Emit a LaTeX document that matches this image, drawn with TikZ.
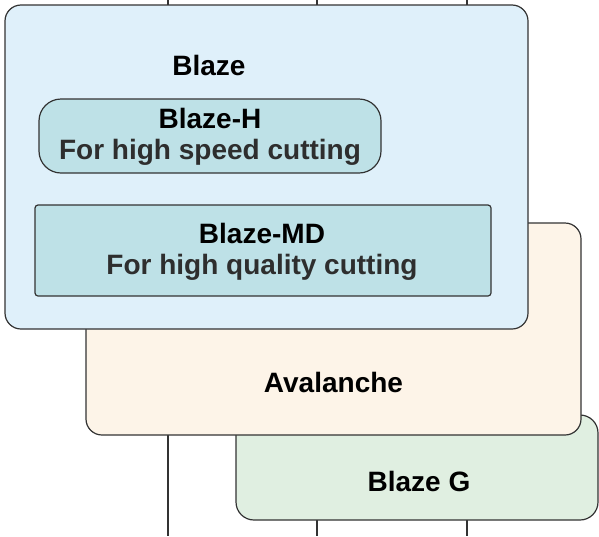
\documentclass[tikz,border=0pt]{standalone}
\usepackage{fontspec}
\setmainfont{Liberation Sans}
\definecolor{edge}{HTML}{333333}
\definecolor{blazefill}{HTML}{DFF0FA}
\definecolor{innerfill}{HTML}{BEE1E7}
\definecolor{avafill}{HTML}{FDF4E8}
\definecolor{gfill}{HTML}{E0EFE1}
\definecolor{subtext}{HTML}{2E2E2E}
\begin{document}
\begin{tikzpicture}[x=1pt,y=-1pt,
  box/.style={draw=edge, line width=1.2pt, inner sep=0pt, outer sep=0pt, anchor=north west},
  title/.style={anchor=base, inner sep=0pt, font=\fontsize{28}{31}\selectfont\bfseries, text=black},
  sub/.style={anchor=base, inner sep=0pt, font=\fontsize{28}{31}\selectfont\bfseries, text=subtext},
  rail/.style={draw=edge, line width=1.1pt}]
\useasboundingbox (0,0) rectangle (599,536);
% rails behind the boxes
\foreach \i/\x in {1/168,2/317,3/467}{
  \coordinate (top\i) at (\x,0);
  \coordinate (bot\i) at (\x,536);
  \draw[rail] (top\i) -- (bot\i);
}
% Blaze G
\node[box, fill=gfill, rounded corners=18pt, minimum width=362pt, minimum height=105pt] (bg) at (236,415) {};
% Avalanche
\node[box, fill=avafill, rounded corners=16pt, minimum width=495pt, minimum height=212pt] (ava) at (86,223) {};
% Blaze
\node[box, fill=blazefill, rounded corners=16pt, minimum width=523pt, minimum height=324pt] (blaze) at (5,5) {};
% Blaze-H
\node[box, fill=innerfill, rounded corners=22pt, minimum width=342pt, minimum height=74pt] (bh) at (39,99) {};
% Blaze-MD
\node[box, fill=innerfill, rounded corners=3pt, minimum width=456pt, minimum height=91pt] (bmd) at (35,205) {};
% texts
\node[title] (tblaze) at (209,75) {Blaze};
\node[title] (tbh) at (210,128) {Blaze-H};
\node[sub] (tbhs) at (210,159) {For high speed cutting};
\node[title] (tbmd) at (262,243) {Blaze-MD};
\node[sub] (tbmds) at (262,274) {For high quality cutting};
\node[title] (tava) at (333.5,392) {Avalanche};
\node[title] (tbg) at (419,491) {Blaze G};
\end{tikzpicture}
\end{document}
